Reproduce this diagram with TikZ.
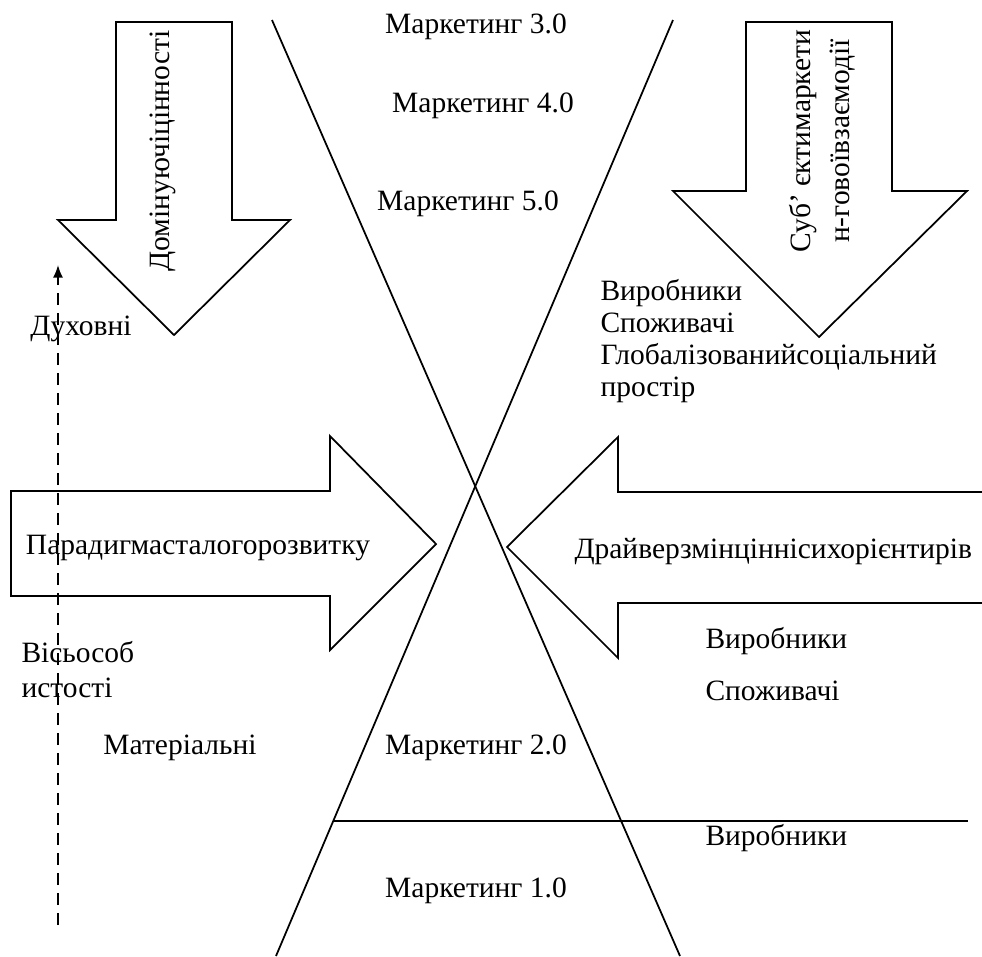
\documentclass[tikz,border=0pt]{standalone}
\usepackage{fontspec}
\setmainfont{Liberation Serif}
\usetikzlibrary{arrows.meta}

\begin{document}
\begin{tikzpicture}[ x = 0.4pt, y = -0.4pt,
		contour/.style = { draw, line width = 0.7pt, line join = miter },
		txt/.style = { inner sep = 0pt, font = \fontsize{11.8}{14.2}\selectfont } ]
		\useasboundingbox ( 0, 0 ) rectangle ( 982, 956 );

		% дві прямі, що перетинаються
		\draw [ contour ] ( 272, 20 ) -- ( 680, 956 );
		\draw [ contour ] ( 673, 20 ) -- ( 276, 956 );
		\draw [ contour ] ( 333, 821 ) -- ( 968, 821 );

		% стрілка вниз зліва
		\draw [ contour ] ( 116, 22 ) -- ( 232, 22 ) -- ( 232, 220 ) -- ( 290, 220 ) -- ( 174, 335 ) -- ( 58, 220 ) -- ( 116, 220 ) -- cycle;
		\node [ txt, rotate = 90 ] (dominant) at ( 163, 151 ) {Домінуючіцінності};

		% стрілка вниз справа
		\draw [ contour ] ( 746, 22 ) -- ( 892, 22 ) -- ( 892, 191 ) -- ( 967, 191 ) -- ( 819, 337 ) -- ( 673, 191 ) -- ( 746, 191 ) -- cycle;
		\node [ txt, rotate = 90, align = center, font = \fontsize{11.8}{15.6}\selectfont ] (subjects) at ( 822, 141 ) {Суб’ єктимаркети\\н-говоївзаємодії};

		% стрілка вправо
		\draw [ contour ] ( 11, 491 ) -- ( 330, 491 ) -- ( 330, 436 ) -- ( 436, 544 ) -- ( 330, 650 ) -- ( 330, 596 ) -- ( 11, 596 ) -- cycle;
		\node [ txt ] (paradigm) at ( 198, 548 ) {Парадигмасталогорозвитку};

		% стрілка вліво
		\draw [ contour ] ( 982, 492 ) -- ( 618, 492 ) -- ( 618, 437 ) -- ( 507, 547 ) -- ( 618, 658 ) -- ( 618, 603 ) -- ( 982, 603 );
		\node [ txt, anchor = west ] (drivers) at ( 574, 552 ) {Драйверзмінціннісихорієнтирів};

		% вісь особистості
		\coordinate (axisbottom) at ( 58, 925 );
		\coordinate (axistop) at ( 58, 265 );
		\draw [ line width = 0.7pt, dash pattern = on 5pt off 3pt, -{Latex[ length = 5pt, width = 4pt ]} ] (axisbottom) -- (axistop);
		\node [ txt ] (spiritual) at ( 81, 329 ) {Духовні};
		\node [ txt, anchor = west, align = left, font = \fontsize{11.8}{14}\selectfont ] (axis) at ( 21, 670 ) {Вісьособ\\истості};
		\node [ txt ] (material) at ( 180, 748 ) {Матеріальні};

		% етапи маркетингу
		\node [ txt ] (mkt3) at ( 476, 27 ) {Маркетинг 3.0};
		\node [ txt ] (mkt4) at ( 483, 106 ) {Маркетинг 4.0};
		\node [ txt ] (mkt5) at ( 468, 204 ) {Маркетинг 5.0};
		\node [ txt ] (mkt2) at ( 476, 748 ) {Маркетинг 2.0};
		\node [ txt ] (mkt1) at ( 476, 891 ) {Маркетинг 1.0};

		% учасники
		\node [ txt, anchor = west, align = left, font = \fontsize{11.8}{12.8}\selectfont ] (global) at ( 600, 341 ) {Виробники\\Споживачі\\Глобалізованийсоціальний\\простір};
		\node [ txt, anchor = west ] (prod2) at ( 705, 641 ) {Виробники};
		\node [ txt, anchor = west ] (cons2) at ( 705, 691 ) {Споживачі};
		\node [ txt, anchor = west ] (prod1) at ( 705, 838 ) {Виробники};
	\end{tikzpicture}
\end{document}
